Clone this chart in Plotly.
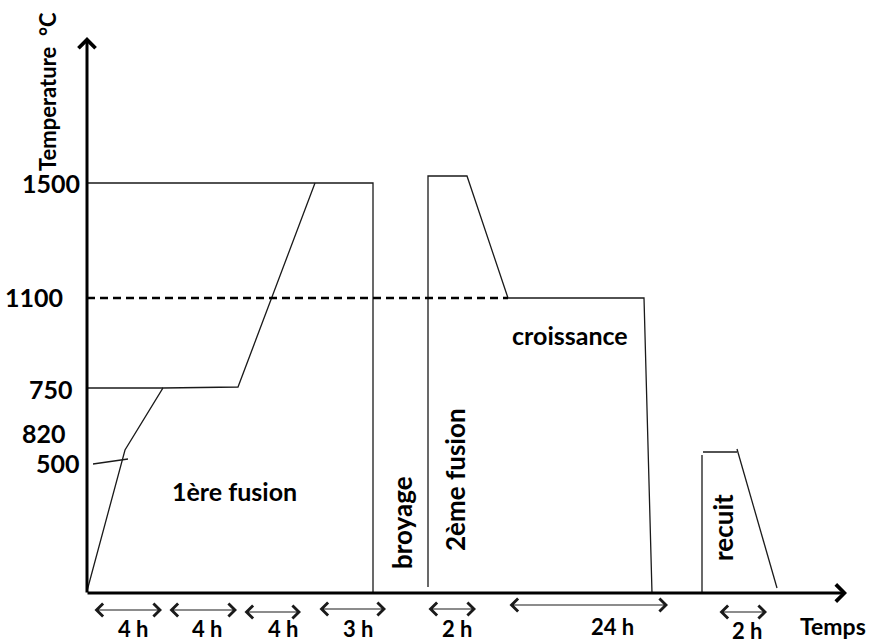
import plotly.graph_objects as go

# Schematic thermal cycle: time runs along x (arbitrary units, origin on the
# temperature axis), temperature levels along y (schematic, not to scale).

# Temperature levels shown on the vertical axis
level_labels = ["1500", "1100", "750", "820", "500"]
level_values = [410, 296, 204, 160, 130]
level_label_right = [-5, -22, -12, -19, -5]

# First melting: heating ramp with its 750 °C plateau, then the 1500 °C hold
ramp1_t = [0, 38, 76, 151, 228]
ramp1_T = [2, 143, 205, 206, 410]
plateau750_t = [0, 76]
plateau750_T = [205, 205]
hold1500_t = [0, 286, 286]
hold1500_T = [410, 410, 0]
mark500_t = [6, 41]
mark500_T = [129, 134]

# 1100 °C reference (dashed)
ref1100_t = [0, 421]
ref1100_T = [295, 295]

# Second melting followed by growth at 1100 °C
fusion2_t = [341, 341, 380, 421, 557, 565]
fusion2_T = [6, 417, 417, 295, 295, 0]

# Annealing
recuit_t = [615, 615, None, 616, 650, None, 650, 690]
recuit_T = [0, 138, None, 141, 141, None, 144, 5]

# Duration arrows under the time axis
dur_start = [6, 81, 156, 231, 340, 421, 631]
dur_end = [75, 150, 214, 299, 389, 581, 680]
dur_arrow_T = [-17, -17, -19, -16, -16, -12, -19]
dur_labels = ["4 h", "4 h", "4 h", "3 h", "2 h", "24 h", "2 h"]
dur_label_t = [46, 120, 196, 271, 370, 525, 660]
dur_label_T = [-35, -35, -35, -35, -35, -33, -37]

# Stage names
stage_text = ["1ère fusion", "broyage", "2ème fusion", "croissance", "recuit"]
stage_t = [147, 315, 368, 483, 636]
stage_T = [102, 70, 113, 258, 65]
stage_angle = [0, -90, -90, 0, -90]
stage_size = [25, 26, 26, 25, 26]

FONT = "Lato"
INK = "#1a1a1a"
thin = dict(color=INK, width=1.3)


def bold(size):
    return dict(family=FONT, size=size, color="black", weight="bold")


fig = go.Figure()

for t, T in [(ramp1_t, ramp1_T), (plateau750_t, plateau750_T),
             (hold1500_t, hold1500_T), (mark500_t, mark500_T),
             (fusion2_t, fusion2_T), (recuit_t, recuit_T)]:
    fig.add_trace(go.Scatter(x=t, y=T, mode="lines", line=thin,
                             hoverinfo="skip", showlegend=False))

fig.add_trace(go.Scatter(x=ref1100_t, y=ref1100_T, mode="lines",
                         line=dict(color="black", width=2.6, dash="8px,5px"),
                         hoverinfo="skip", showlegend=False))

annotations = []

# Axes drawn as arrows
annotations.append(dict(x=0, y=556, ax=0, ay=-1, xref="x", yref="y",
                        axref="x", ayref="y", text="", showarrow=True,
                        arrowhead=4, arrowsize=1.1, arrowwidth=3,
                        arrowcolor="black", standoff=0))
annotations.append(dict(x=760, y=0, ax=-1, ay=0, xref="x", yref="y",
                        axref="x", ayref="y", text="", showarrow=True,
                        arrowhead=4, arrowsize=1.1, arrowwidth=3,
                        arrowcolor="black", standoff=0))

# Temperature levels
for lab, v, xr in zip(level_labels, level_values, level_label_right):
    annotations.append(dict(x=xr, y=v, xref="x", yref="y", text=lab,
                            showarrow=False, xanchor="right", yanchor="middle",
                            font=bold(25)))

# Axis titles
annotations.append(dict(x=-40, y=501, xref="x", yref="y",
                        text="Temperature  °C", textangle=-90, showarrow=False,
                        font=bold(22)))
annotations.append(dict(x=746, y=-33, xref="x", yref="y", text="Temps",
                        showarrow=False, font=bold(23)))

# Durations
for s, e, T in zip(dur_start, dur_end, dur_arrow_T):
    annotations.append(dict(x=e, y=T, ax=s, ay=T, xref="x", yref="y",
                            axref="x", ayref="y", text="", showarrow=True,
                            arrowhead=4, startarrowhead=4, arrowside="end+start",
                            arrowsize=2.3, startarrowsize=2.3, arrowwidth=1.1,
                            arrowcolor=INK, standoff=0, startstandoff=0))
for lab, t, T in zip(dur_labels, dur_label_t, dur_label_T):
    annotations.append(dict(x=t, y=T, xref="x", yref="y", text=lab,
                            showarrow=False, font=bold(22)))

# Stage names
for lab, t, T, ang, sz in zip(stage_text, stage_t, stage_T, stage_angle,
                              stage_size):
    annotations.append(dict(x=t, y=T, xref="x", yref="y", text=lab,
                            textangle=ang, showarrow=False, font=bold(sz)))

fig.update_layout(
    width=876, height=644,
    margin=dict(l=0, r=0, t=0, b=0),
    paper_bgcolor="white", plot_bgcolor="white",
    xaxis=dict(range=[-87, 789], visible=False, fixedrange=True),
    yaxis=dict(range=[-51, 593], visible=False, fixedrange=True),
    annotations=annotations,
    showlegend=False,
)

fig.write_html("out.html")
